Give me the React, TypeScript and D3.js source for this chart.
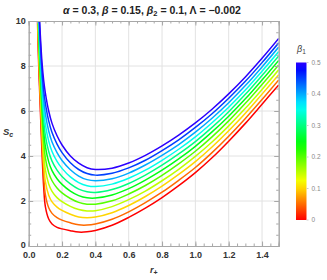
import React, { useEffect, useRef } from 'react';
import * as d3 from 'd3';

// r+ sample points (shared by every curve)
const rPlus = [
  0.05, 0.055, 0.06, 0.065, 0.07, 0.08, 0.09, 0.1, 0.12, 0.14, 0.17, 0.2, 0.25,
  0.3, 0.35, 0.4, 0.5, 0.6, 0.7, 0.8, 0.9, 1.0, 1.1, 1.2, 1.3, 1.4, 1.5,
];

// beta1 value of each curve
const beta1Values = [0, 0.05, 0.1, 0.15, 0.2, 0.25, 0.3, 0.35, 0.4, 0.45, 0.5];

// S_c, one row per beta1
const sc0 = [11.0, 9.3, 8.0, 7.0, 6.0, 4.1, 2.6, 1.75, 1.2, 0.98, 0.83, 0.76, 0.68, 0.62, 0.63, 0.69, 0.92, 1.27, 1.68, 2.15, 2.68, 3.26, 3.92, 4.66, 5.45, 6.3, 7.16];
const sc1 = [11.32, 9.65, 8.34, 7.33, 6.35, 4.53, 3.1, 2.28, 1.7, 1.45, 1.26, 1.15, 1.03, 0.94, 0.93, 0.98, 1.19, 1.52, 1.93, 2.39, 2.92, 3.49, 4.15, 4.88, 5.67, 6.51, 7.38];
const sc2 = [11.66, 10.03, 8.7, 7.68, 6.74, 4.99, 3.65, 2.86, 2.26, 1.96, 1.73, 1.58, 1.41, 1.29, 1.26, 1.29, 1.48, 1.8, 2.2, 2.66, 3.18, 3.75, 4.4, 5.12, 5.9, 6.75, 7.61];
const sc3 = [11.98, 10.37, 9.04, 8.01, 7.09, 5.42, 4.14, 3.39, 2.76, 2.43, 2.15, 1.97, 1.76, 1.62, 1.56, 1.57, 1.75, 2.06, 2.44, 2.9, 3.41, 3.98, 4.62, 5.34, 6.12, 6.96, 7.83];
const sc4 = [12.29, 10.72, 9.38, 8.33, 7.44, 5.84, 4.64, 3.92, 3.26, 2.9, 2.58, 2.36, 2.11, 1.94, 1.86, 1.86, 2.01, 2.31, 2.69, 3.14, 3.65, 4.21, 4.85, 5.56, 6.34, 7.18, 8.05];
const sc5 = [12.59, 11.05, 9.7, 8.64, 7.78, 6.25, 5.12, 4.43, 3.74, 3.35, 2.99, 2.74, 2.44, 2.24, 2.14, 2.13, 2.27, 2.55, 2.93, 3.37, 3.87, 4.43, 5.07, 5.77, 6.54, 7.38, 8.25];
const sc6 = [12.88, 11.36, 10.0, 8.94, 8.09, 6.63, 5.57, 4.91, 4.2, 3.77, 3.37, 3.09, 2.76, 2.53, 2.41, 2.38, 2.51, 2.78, 3.15, 3.59, 4.09, 4.64, 5.27, 5.97, 6.74, 7.58, 8.45];
const sc7 = [13.16, 11.68, 10.3, 9.23, 8.41, 7.02, 6.02, 5.39, 4.66, 4.2, 3.76, 3.45, 3.07, 2.82, 2.68, 2.64, 2.75, 3.01, 3.37, 3.81, 4.3, 4.85, 5.48, 6.17, 6.93, 7.77, 8.64];
const sc8 = [13.45, 11.99, 10.61, 9.53, 8.73, 7.4, 6.47, 5.87, 5.11, 4.62, 4.15, 3.8, 3.39, 3.11, 2.95, 2.9, 2.99, 3.24, 3.6, 4.03, 4.51, 5.06, 5.68, 6.37, 7.13, 7.96, 8.84];
const sc9 = [13.72, 12.3, 10.91, 9.81, 9.04, 7.78, 6.91, 6.34, 5.56, 5.04, 4.53, 4.15, 3.7, 3.4, 3.22, 3.15, 3.23, 3.47, 3.81, 4.24, 4.72, 5.27, 5.88, 6.57, 7.32, 8.15, 9.03];
const sc10 = [14.0, 12.6, 11.2, 10.1, 9.35, 8.15, 7.35, 6.8, 6.0, 5.45, 4.9, 4.49, 4.0, 3.68, 3.48, 3.4, 3.46, 3.69, 4.03, 4.45, 4.93, 5.47, 6.08, 6.76, 7.51, 8.34, 9.22];

const series = [sc0, sc1, sc2, sc3, sc4, sc5, sc6, sc7, sc8, sc9, sc10];

const xTicks = [0, 0.2, 0.4, 0.6, 0.8, 1.0, 1.2, 1.4];
const yTicks = [0, 2, 4, 6, 8, 10];
const legendTicks = [0, 0.1, 0.2, 0.3, 0.4, 0.5];

const W = 327;
const H = 280;

// rainbow hue: red at 0, blue-violet at 0.5
const colorFor = (b: number) => d3.hsl((b / 0.5) * 250, 1, 0.5).formatHex();

const App = () => {
  const svgRef = useRef<SVGSVGElement | null>(null);

  useEffect(() => {
    if (!svgRef.current) return;
    const svg = d3.select(svgRef.current);
    svg.selectAll('*').remove();

    const left = 28.7;
    const right = 278.7;
    const top = 21;
    const bottom = 246;

    const x = d3.scaleLinear().domain([0, 1.5]).range([left, right]);
    const y = d3.scaleLinear().domain([0, 10]).range([bottom, top]);

    const frameColor = '#a8a8a8';
    const font = "'Liberation Sans', Arial, sans-serif";

    const defs = svg.append('defs');
    defs
      .append('clipPath')
      .attr('id', 'plot-clip')
      .append('rect')
      .attr('x', left)
      .attr('y', top)
      .attr('width', right - left)
      .attr('height', bottom - top);

    // grid lines
    const grid = svg.append('g').attr('stroke', '#e2e2e2').attr('stroke-width', 1);
    xTicks.slice(1).forEach((t) => {
      grid.append('line').attr('x1', x(t)).attr('x2', x(t)).attr('y1', top).attr('y2', bottom);
    });
    yTicks.slice(1, -1).forEach((t) => {
      grid.append('line').attr('x1', left).attr('x2', right).attr('y1', y(t)).attr('y2', y(t));
    });

    // curves
    const line = d3
      .line<number>()
      .x((_, i) => x(rPlus[i]))
      .y((d) => y(d))
      .curve(d3.curveCatmullRom.alpha(0.5));

    const curves = svg.append('g').attr('clip-path', 'url(#plot-clip)');
    series.forEach((s, k) => {
      curves
        .append('path')
        .attr('d', line(s))
        .attr('fill', 'none')
        .attr('stroke', colorFor(beta1Values[k]))
        .attr('stroke-width', 1.5);
    });

    // frame with inward ticks
    const xMinor = d3.range(0, 1.5001, 0.05);
    const yMinor = d3.range(0, 10.001, 0.5);

    const styleAxis = (g: any) => {
      g.select('.domain').attr('stroke', frameColor);
      g.selectAll('.tick line').attr('stroke', frameColor);
    };

    const minorX = (axisFn: any, ypos: number) =>
      svg
        .append('g')
        .attr('transform', `translate(0,${ypos})`)
        .call(axisFn(x).tickValues(xMinor).tickSize(-2.5).tickFormat(''))
        .call(styleAxis);
    const minorY = (axisFn: any, xpos: number) =>
      svg
        .append('g')
        .attr('transform', `translate(${xpos},0)`)
        .call(axisFn(y).tickValues(yMinor).tickSize(-2.5).tickFormat(''))
        .call(styleAxis);

    minorX(d3.axisBottom, bottom);
    minorX(d3.axisTop, top);
    minorY(d3.axisLeft, left);
    minorY(d3.axisRight, right);

    svg
      .append('g')
      .attr('transform', `translate(0,${top})`)
      .call(d3.axisTop(x).tickValues(xTicks).tickSize(-4.5).tickFormat(''))
      .call(styleAxis);
    svg
      .append('g')
      .attr('transform', `translate(${right},0)`)
      .call(d3.axisRight(y).tickValues(yTicks).tickSize(-4.5).tickFormat(''))
      .call(styleAxis);

    const xAxis = svg
      .append('g')
      .attr('transform', `translate(0,${bottom})`)
      .call(
        d3
          .axisBottom(x)
          .tickValues(xTicks)
          .tickSize(-4.5)
          .tickPadding(5.5)
          .tickFormat((d: any) => d3.format('.1f')(d)),
      )
      .call(styleAxis);
    xAxis
      .selectAll('text')
      .attr('font-family', font)
      .attr('font-size', 9)
      .attr('font-weight', 'bold')
      .attr('fill', '#333');

    const yAxis = svg
      .append('g')
      .attr('transform', `translate(${left},0)`)
      .call(
        d3
          .axisLeft(y)
          .tickValues(yTicks)
          .tickSize(-4.5)
          .tickPadding(3)
          .tickFormat((d: any) => String(d)),
      )
      .call(styleAxis);
    yAxis
      .selectAll('text')
      .attr('font-family', font)
      .attr('font-size', 9)
      .attr('font-weight', 'bold')
      .attr('fill', '#333');
    // lift the "0" a touch so it clears the "0.0" below
    yAxis.selectAll('.tick').filter((d: any) => d === 0).select('text').attr('dy', '0.2em');

    // axis labels
    const xl = svg
      .append('text')
      .attr('x', (left + right) / 2)
      .attr('y', 273)
      .attr('text-anchor', 'middle')
      .attr('font-family', font)
      .attr('font-size', 9)
      .attr('font-weight', 'bold')
      .attr('fill', '#333');
    xl.append('tspan').attr('font-style', 'italic').text('r');
    xl.append('tspan').attr('font-size', 7).attr('dy', 2).text('+');

    const yl = svg
      .append('text')
      .attr('x', 3)
      .attr('y', 135)
      .attr('font-family', font)
      .attr('font-size', 9.5)
      .attr('font-weight', 'bold')
      .attr('fill', '#333');
    yl.append('tspan').attr('font-style', 'italic').text('S');
    yl.append('tspan').attr('font-style', 'italic').attr('font-size', 7).attr('dy', 2).text('c');

    // title
    const title = svg
      .append('text')
      .attr('x', 152)
      .attr('y', 14)
      .attr('text-anchor', 'middle')
      .attr('font-family', font)
      .attr('font-size', 10.5)
      .attr('font-weight', 'bold')
      .attr('fill', '#222');
    title.append('tspan').attr('font-style', 'italic').text('α');
    title.append('tspan').text(' = 0.3, ');
    title.append('tspan').attr('font-style', 'italic').text('β');
    title.append('tspan').text(' = 0.15, ');
    title.append('tspan').attr('font-style', 'italic').text('β');
    title.append('tspan').attr('font-size', 7.5).attr('dy', 2).text('2');
    title.append('tspan').attr('dy', -2).text(' = 0.1, Λ = −0.002');

    // colour bar legend
    const barX = 296;
    const barW = 10.5;
    const ly = d3.scaleLinear().domain([0, 0.5]).range([220, 62.5]);

    const grad = defs
      .append('linearGradient')
      .attr('id', 'beta-grad')
      .attr('x1', '0%')
      .attr('y1', '100%')
      .attr('x2', '0%')
      .attr('y2', '0%');
    d3.range(0, 1.0001, 0.05).forEach((t) => {
      grad
        .append('stop')
        .attr('offset', `${t * 100}%`)
        .attr('stop-color', colorFor(t * 0.5));
    });

    svg
      .append('rect')
      .attr('x', barX)
      .attr('y', ly(0.5))
      .attr('width', barW)
      .attr('height', ly(0) - ly(0.5))
      .attr('fill', 'url(#beta-grad)');

    legendTicks.forEach((t) => {
      svg
        .append('line')
        .attr('x1', barX + barW)
        .attr('x2', barX + barW + 2)
        .attr('y1', ly(t))
        .attr('y2', ly(t))
        .attr('stroke', '#ccc');
      svg
        .append('text')
        .attr('x', barX + barW + 5)
        .attr('y', ly(t) + 2.3)
        .attr('font-family', font)
        .attr('font-size', 6.5)
        .attr('fill', '#888')
        .text(t === 0 ? '0' : d3.format('.1f')(t));
    });

    const lt = svg
      .append('text')
      .attr('x', barX + 1)
      .attr('y', 52)
      .attr('font-family', font)
      .attr('font-size', 9)
      .attr('fill', '#444');
    lt.append('tspan').attr('font-style', 'italic').text('β');
    lt.append('tspan').attr('font-size', 6.5).attr('dy', 2).text('1');
  }, []);

  return (
    <div style={{ position: 'absolute', left: 0, top: 0, width: W, height: H, background: '#fff' }}>
      <svg ref={svgRef} width={W} height={H} />
    </div>
  );
};

export default App;
